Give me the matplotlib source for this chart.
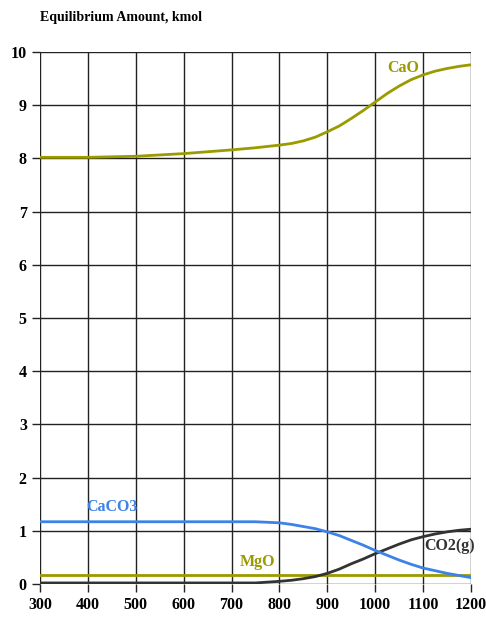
import matplotlib
matplotlib.use("Agg")
import matplotlib.pyplot as plt

# Temperature grid and equilibrium amounts (kmol)
temps = [300, 400, 500, 600, 700, 750, 800, 825, 850, 875, 900, 925, 950, 975, 1000,
         1025, 1050, 1075, 1100, 1125, 1150, 1175, 1200]
cao = [8.02, 8.02, 8.04, 8.09, 8.16, 8.20, 8.25, 8.28, 8.33, 8.40, 8.50, 8.61, 8.75, 8.90, 9.06,
       9.22, 9.36, 9.48, 9.57, 9.64, 9.69, 9.73, 9.76]
caco3 = [1.17, 1.17, 1.17, 1.17, 1.17, 1.17, 1.15, 1.12, 1.08, 1.04, 0.98, 0.91, 0.82, 0.73, 0.63,
         0.54, 0.45, 0.37, 0.30, 0.25, 0.20, 0.16, 0.12]
co2 = [0.02, 0.02, 0.02, 0.02, 0.02, 0.02, 0.05, 0.07, 0.10, 0.14, 0.20, 0.28, 0.38, 0.47, 0.57,
       0.66, 0.75, 0.83, 0.89, 0.94, 0.98, 1.01, 1.03]
mgo = [0.17] * len(temps)

olive = '#9b9b00'
blue = '#3d82e6'
dark = '#333333'

plt.rcParams['font.family'] = 'Liberation Serif'
plt.rcParams['font.weight'] = 'bold'

fig = plt.figure(figsize=(4.86, 6.28), dpi=100)
ax = fig.add_axes([40 / 486, 1 - 584 / 628, 431 / 486, 532 / 628])

ax.plot(temps, mgo, color=olive, lw=2)
ax.plot(temps, co2, color=dark, lw=2)
ax.plot(temps, caco3, color=blue, lw=2)
ax.plot(temps, cao, color=olive, lw=2)

ax.set_xlim(300, 1200)
ax.set_ylim(0, 10)
ax.set_xticks(range(300, 1201, 100))
ax.set_yticks(range(0, 11))
ax.grid(True, color='#222222', lw=1)
for s in ax.spines.values():
    s.set_visible(False)
ax.tick_params(axis='both', labelsize=11.5, color='#222222', length=6, width=1)
for lbl in ax.get_xticklabels() + ax.get_yticklabels():
    lbl.set_fontweight('bold')

ax.text(1058, 9.7, 'CaO', color=olive, fontsize=11.5, ha='center', va='center')
ax.text(450, 1.45, 'CaCO3', color=blue, fontsize=11.5, ha='center', va='center')
ax.text(755, 0.41, 'MgO', color=olive, fontsize=11.5, ha='center', va='center')
ax.text(1156, 0.71, 'CO2(g)', color=dark, fontsize=11.5, ha='center', va='center')

fig.text(40 / 486, 1 - 18 / 628, 'Equilibrium Amount, kmol', fontsize=10,
         fontweight='bold', ha='left', va='center')

fig.savefig('out.png', dpi=100)
